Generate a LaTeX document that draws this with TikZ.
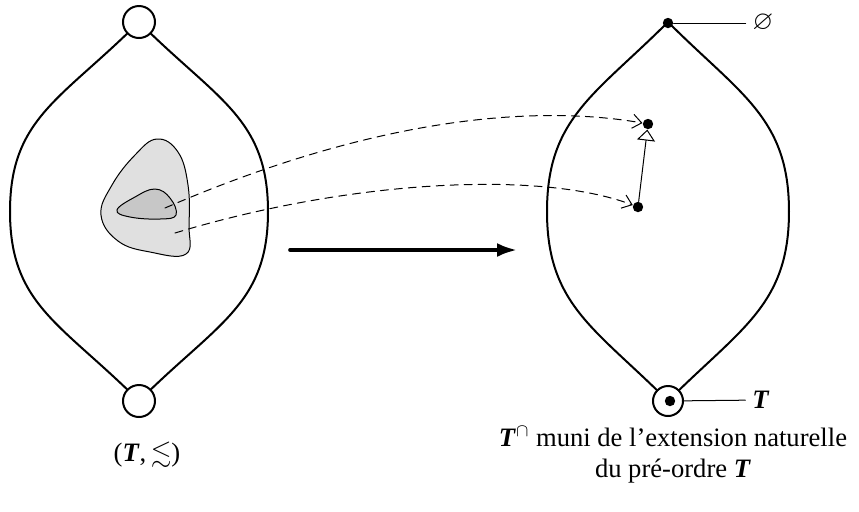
\documentclass[tikz,border=0pt]{standalone}
\usepackage{amsmath,amssymb}
\usepackage{fontspec}
\setmainfont{Liberation Serif}
\usetikzlibrary{arrows.meta}
\newcommand{\bT}{\textbf{\textit{T}}}

\begin{document}
\begin{tikzpicture}[x=0.5pt, y=-0.5pt, line cap=round,
    font=\fontsize{13.3}{15.5}\selectfont,
    lensline/.style={line width=1pt},
    hole/.style={circle, draw, line width=1pt, fill=white, minimum size=16pt, inner sep=0pt},
    dot/.style={circle, fill, minimum size=5.2pt, inner sep=0pt},
    link/.style={dashed, dash pattern=on 4pt off 3pt, line width=0.5pt, -{Straight Barb[length=4.5pt,width=7pt]}},
    lift/.style={line width=0.5pt, -{Triangle[open,length=5.5pt,width=9pt]}},
    mapsto/.style={line width=1.8pt, -{Latex[length=10pt,width=7pt]}}]
  \useasboundingbox (0,0) rectangle (859,511);

  % the two lenses
  \foreach \cx/\w in {139/129, 668/121}{
    \draw[lensline] (\cx,22) .. controls ({\cx-0.6*\w},{22+0.6*\w}) and ({\cx-\w},118) .. ({\cx-\w},211.5)
      .. controls ({\cx-\w},305) and ({\cx-0.6*\w},{401-0.6*\w}) .. (\cx,401)
      .. controls ({\cx+0.6*\w},{401-0.6*\w}) and ({\cx+\w},305) .. ({\cx+\w},211.5)
      .. controls ({\cx+\w},118) and ({\cx+0.6*\w},{22+0.6*\w}) .. cycle;
  }
  \node[hole] (top) at (139,22) {};
  \node[hole] (bot) at (139,401) {};
  \node[hole, minimum size=15pt] (botR) at (668,401) {};
  \node[dot] (topR) at (668,23) {};
  \node[dot] (tR) at (670,401) {};

  % gray region and its core
  \draw[line width=0.5pt, fill=black!12] plot[smooth cycle, tension=0.7] coordinates
    {(157,139) (178,152) (188,185) (189,225) (186,254) (150,252) (118,241) (101,215) (112,185) (135,155)};
  \draw[line width=0.5pt, fill=black!22] plot[smooth cycle, tension=0.7] coordinates
    {(117,210) (135,197) (155,189) (170,198) (176,215) (160,219) (130,217)};
  \coordinate (a1) at (165,208);
  \coordinate (a2) at (175,233);

  % image points
  \node[dot] (p) at (648,124) {};
  \node[dot] (q) at (638,207) {};
  \draw[link] (a1) .. controls (380,115) and (540,105) .. (p);
  \draw[link] (a2) .. controls (350,180) and (540,170) .. (q);
  \draw[lift] (q) -- (p);

  % main arrow
  \coordinate (m1) at (290,250);
  \coordinate (m2) at (517,250);
  \draw[mapsto] (m1) -- (m2);

  % labels
  \node (empty) at (763,23) {$\varnothing$};
  \draw[line width=0.5pt] (topR) -- (empty);
  \node (T) at (761,400) {\bT};
  \draw[line width=0.5pt] (botR) -- (T);
  \node (left) at (147,455) {(\bT,\,$\lesssim$)};
  \node[align=center] (right) at (673,455) {\bT$^{\cap}$ muni de l'extension naturelle\\du pré-ordre \bT};
\end{tikzpicture}
\end{document}
